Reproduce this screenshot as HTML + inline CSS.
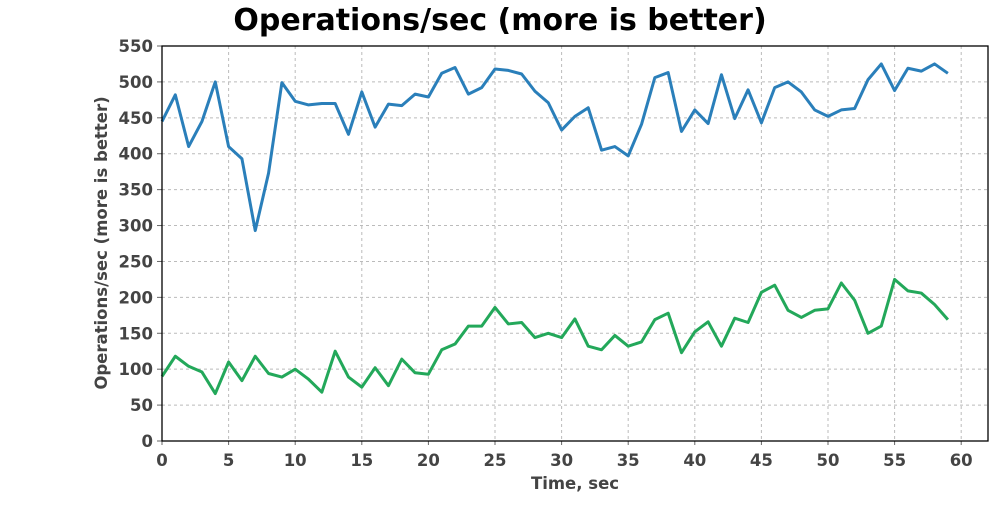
<!DOCTYPE html>
<html><head><meta charset="utf-8"><style>
body{margin:0;background:#fff;width:1000px;height:500px;overflow:hidden;font-family:"Liberation Sans","DejaVu Sans",sans-serif}
</style></head><body>
<svg id="c" width="1000" height="500" xmlns="http://www.w3.org/2000/svg">
<text x="500" y="30" text-anchor="middle" font-family="DejaVu Sans, sans-serif" font-weight="bold" font-size="30" fill="#000">Operations/sec (more is better)</text>
<text x="575" y="489" text-anchor="middle" font-family="DejaVu Sans, sans-serif" font-weight="bold" font-size="16.5" fill="#444">Time, sec</text>
<text transform="translate(107,243) rotate(-90)" text-anchor="middle" font-family="DejaVu Sans, sans-serif" font-weight="bold" font-size="16.5" fill="#444">Operations/sec (more is better)</text>
<g id="grid"></g><g id="ticks"></g><g id="series"></g>
<rect x="162" y="46" width="826" height="395" fill="none" stroke="#000" stroke-width="1.3"/>
</svg>
<script>
const times=[...Array(60).keys()];
const seriesA=[445,482,410,445,500,410,393,293,373,499,473,468,470,470,427,486,437,469,467,483,479,512,520,483,492,518,516,511,487,471,433,452,464,405,410,397,441,506,513,431,461,442,510,449,489,443,492,500,486,461,452,461,463,503,525,488,519,515,525,512];
const seriesB=[90,118,104,96,66,110,84,118,94,89,100,86,68,125,89,75,102,77,114,95,93,127,135,160,160,186,163,165,144,150,144,170,132,127,147,132,138,169,178,123,152,166,132,171,165,207,217,182,172,182,184,220,196,150,160,225,209,206,190,169];
const xTicks=[0,5,10,15,20,25,30,35,40,45,50,55,60];
const yTicks=[0,50,100,150,200,250,300,350,400,450,500,550];
const X=v=>162+v*13.32, Y=v=>441-v*395/550;
const NS="http://www.w3.org/2000/svg";
const g=document.getElementById('grid'),t=document.getElementById('ticks'),s=document.getElementById('series');
function mk(tag,attrs,parent){const e=document.createElementNS(NS,tag);for(const k in attrs)e.setAttribute(k,attrs[k]);parent.appendChild(e);return e;}
xTicks.forEach(v=>{
 const l=mk('line',{x1:X(v),x2:X(v),y1:46,y2:441,stroke:'#bbb','stroke-dasharray':'3,3'},g);
 
 
 const tx=mk('text',{x:X(v),y:466,'text-anchor':'middle','font-size':16.5,'font-weight':'bold','font-family':'DejaVu Sans, sans-serif',fill:'#444'},t);
 tx.textContent=v;
 
 
 mk('line',{x1:X(v),x2:X(v),y1:441,y2:445,stroke:'#666'},t);
});
yTicks.forEach(v=>{
 const l=mk('line',{x1:162,x2:988,y1:Y(v),y2:Y(v),stroke:'#bbb','stroke-dasharray':'3,3'},g);
 
 
 const tx=mk('text',{x:153,y:Y(v)+6,'text-anchor':'end','font-size':16.5,'font-weight':'bold','font-family':'DejaVu Sans, sans-serif',fill:'#444'},t);
 tx.textContent=v;
 
 
 mk('line',{x1:157,x2:162,y1:Y(v),y2:Y(v),stroke:'#666'},t);
});
function line(data,color,name){
 const p=mk('polyline',{points:data.map((v,i)=>X(times[i])+','+Y(v)).join(' '),fill:'none',stroke:color,'stroke-width':3,'stroke-linejoin':'round'},s);
 
 
}
line(seriesA,'#2a7fba','series-a-line');
line(seriesB,'#23a85a','series-b-line');
</script>
</body></html>
